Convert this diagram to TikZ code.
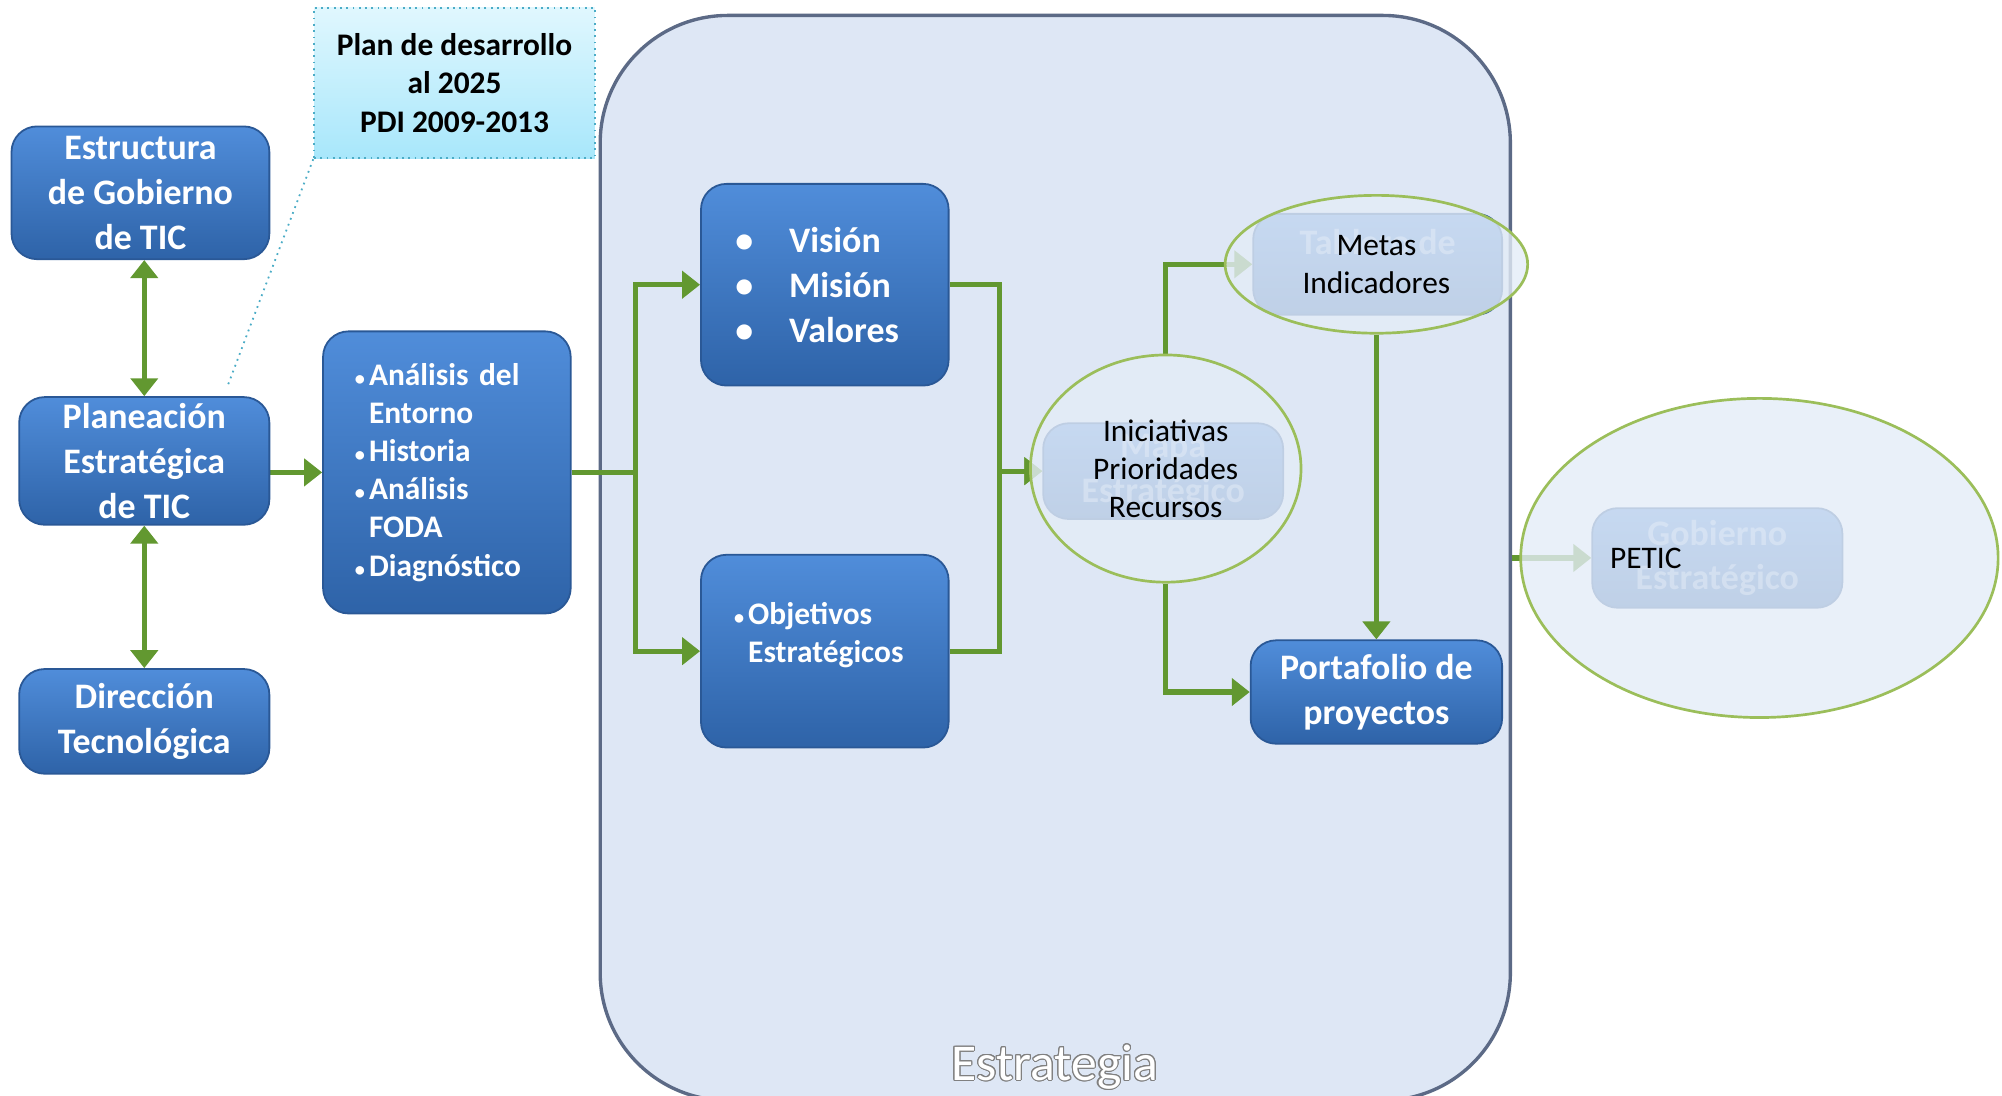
\documentclass[tikz,border=0pt]{standalone}
\usepackage{fontspec}
\setmainfont{Carlito}
\usepackage{contour}
\usetikzlibrary{arrows.meta,shapes.geometric}
\definecolor{boxtop}{RGB}{80,141,218}
\definecolor{boxbot}{RGB}{46,99,168}
\definecolor{boxrim}{RGB}{42,88,150}
\definecolor{arrowgreen}{RGB}{98,152,48}
\definecolor{ovalrim}{RGB}{155,190,90}
\definecolor{ovalfill}{RGB}{228,236,247}
\definecolor{stratfill}{RGB}{222,231,245}
\definecolor{stratrim}{RGB}{92,106,134}
\definecolor{notetop}{RGB}{224,247,254}
\definecolor{notebot}{RGB}{168,231,251}
\definecolor{noterim}{RGB}{75,172,198}
\pgfdeclarelayer{back}
\pgfdeclarelayer{mid}
\pgfsetlayers{back,mid,main}
\contourlength{0.5pt}
\newcommand{\blt}{\makebox[0.22cm][l]{\fontsize{9}{9}\selectfont\textbullet}}
\newcommand{\bltgap}{\hspace*{0.22cm}}
\begin{document}
\begin{tikzpicture}[x=0.02cm, y=-0.02cm,
  blk/.style = {draw=boxrim, line width=0.8pt, top color=boxtop, bottom color=boxbot, rounded corners=0.4cm, text=white, font=\bfseries\fontsize{16}{20}\selectfont, align=center, inner sep=0pt},
  lst/.style = {blk, align=left, font=\bfseries\fontsize{14}{17}\selectfont, inner xsep=0.5cm, text width=2.88cm},
  ghost/.style = {blk, text opacity=0.45},
  oval/.style = {draw=ovalrim, line width=1.2pt, ellipse, fill=ovalfill, fill opacity=0.8, text opacity=1, inner sep=0pt, font=\fontsize{14}{17}\selectfont, align=center},
  link/.style = {draw=arrowgreen, line width=2.3pt, -{Triangle[length=8pt,width=12pt]}},
  dlink/.style = {link, {Triangle[length=8pt,width=12pt]}-{Triangle[length=8pt,width=12pt]}},
  note/.style = {draw=noterim, dotted, line width=0.8pt, top color=notetop, bottom color=notebot, font=\bfseries\fontsize{14}{17}\selectfont, align=center}]
\useasboundingbox (0,0) rectangle (1568,858);
% marco de la estrategia
\begin{pgfonlayer}{back}
\node[draw=stratrim, line width=1.5pt, fill=stratfill, rounded corners=2cm, minimum width=14.26cm, minimum height=17cm] (strat) at (826.5,437) {};
\end{pgfonlayer}
\node[text=white, font=\fontsize{23}{27}\selectfont] (lbl) at (826,836) {\contour{gray}{Estrategia}};
% cajas azules
\node[blk, minimum width=4.04cm, minimum height=2.08cm] (est) at (110,151) {Estructura\\de Gobierno\\de TIC};
\node[blk, minimum width=3.92cm, minimum height=2cm] (plan) at (113,361) {Planeación\\Estratégica\\de TIC};
\node[blk, minimum width=3.92cm, minimum height=1.64cm] (dir) at (113,565) {Dirección\\Tecnológica};
\node[lst, minimum width=3.88cm, minimum height=4.42cm] (ana) at (350,370) {\blt Análisis del\\\bltgap Entorno\\\blt Historia\\\blt Análisis\\\bltgap FODA\\\blt Diagnóstico};
\node[blk, align=left, inner xsep=0.54cm, text width=2.8cm, minimum width=3.88cm, minimum height=3.16cm] (vmv) at (646,223) {\makebox[0.84cm][l]{\textbullet}Visión\\\makebox[0.84cm][l]{\textbullet}Misión\\\makebox[0.84cm][l]{\textbullet}Valores};
\node[lst, inner xsep=0.52cm, text width=2.84cm, minimum width=3.88cm, minimum height=3.02cm] (obj) at (646,510) {\blt Objetivos\\\bltgap Estratégicos\\\mbox{}};
\node[blk, minimum width=3.94cm, minimum height=1.62cm] (port) at (1078,542) {Portafolio de\\proyectos};
\node[note, minimum width=4.4cm, minimum height=2.36cm] (note) at (356,65) {Plan de desarrollo\\al 2025\\PDI 2009-2013};
\coordinate (tip) at (178,303);
% elipses
\node[oval, minimum width=4.24cm, minimum height=3.56cm] (ini) at (913,367) {Iniciativas\\Prioridades\\Recursos};
\node[oval, minimum width=4.74cm, minimum height=2.16cm] (metas) at (1078,207) {Metas\\Indicadores};
\node[oval, minimum width=7.48cm, minimum height=5cm] (pet) at (1378,437) {};
\node[font=\fontsize{14}{17}\selectfont] (petic) at (1289,437) {PETIC};
% conectores
\begin{pgfonlayer}{mid}
\node[ghost, minimum width=3.76cm, minimum height=1.5cm] (mapa) at (911,369) {Mapa\\Estratégico};
\node[ghost, minimum width=3.9cm, minimum height=1.58cm] (mbox) at (1079,207) {Tablero de\\\mbox{}};
\node[ghost, minimum width=3.92cm, minimum height=1.56cm] (pbox) at (1345,437) {Gobierno\\Estratégico};
\draw[dlink] (est.south -| plan.north) -- (plan.north);
\draw[dlink] (plan.south) -- (dir.north);
\draw[link] (plan.east |- ana.west) -- (ana.west);
\draw[link] (ana.east) -- ++(50,0) |- (vmv.west);
\draw[link] (ana.east) -- ++(50,0) |- (obj.west);
\draw[link] (vmv.east) -- ++(39,0) |- (mapa.west);
\draw[link] (obj.east) -- ++(39,0) |- (mapa.west);
\draw[link] (ini.north) |- (mbox.west);
\draw[link] (ini.south) |- (port.west);
\draw[link] (metas.south) -- (port.north);
\draw[link] (strat.east |- pbox.west) -- (pbox.west);
\draw[dotted, draw=noterim, line width=0.8pt] (note.south west) -- (tip);
\end{pgfonlayer}
\end{tikzpicture}
\end{document}
